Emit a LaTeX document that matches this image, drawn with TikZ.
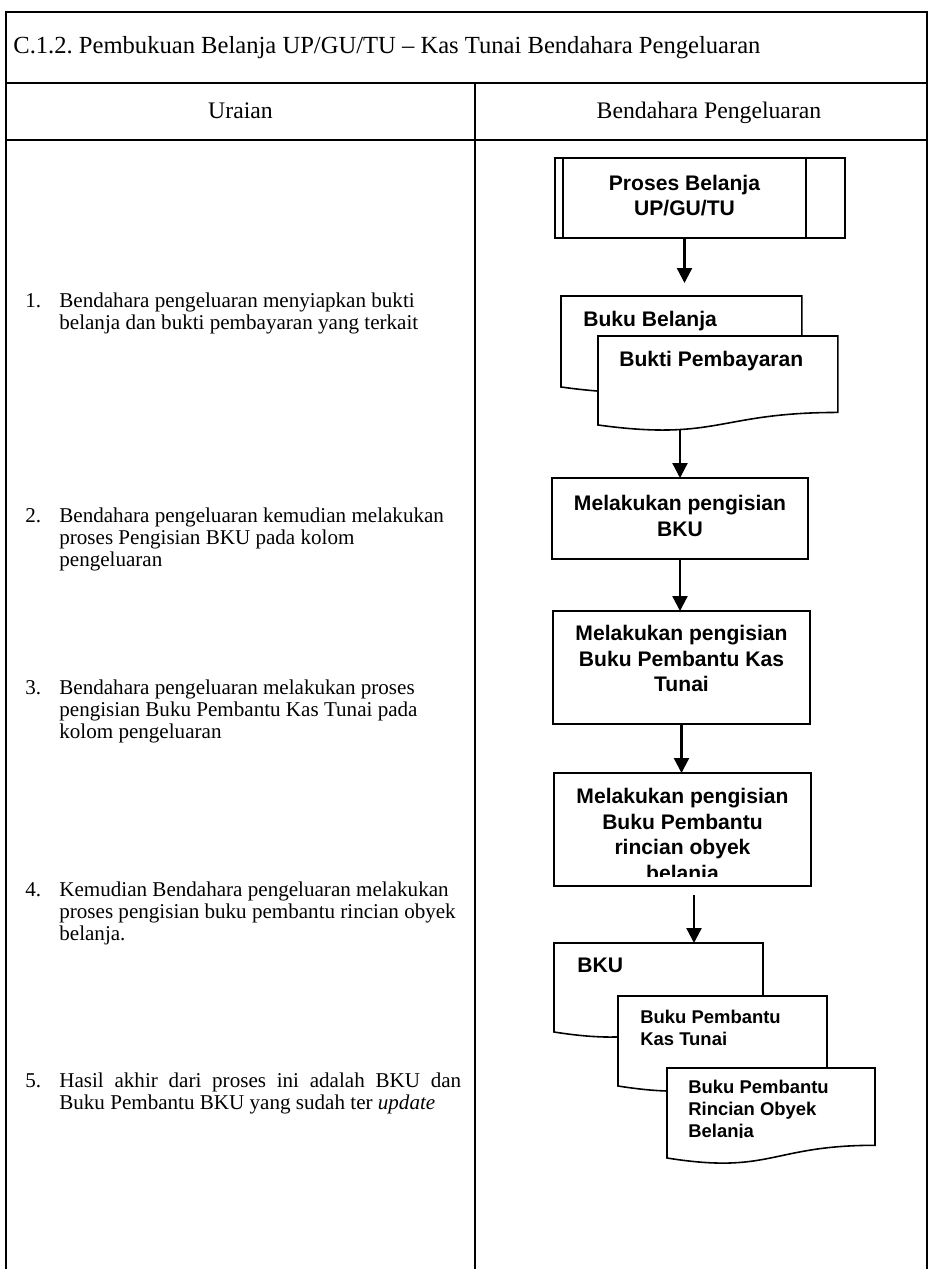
\documentclass[tikz,border=0pt]{standalone}
\usepackage{fontspec}
\setmainfont{Liberation Serif}
\newfontfamily\arialf{Liberation Sans}
\usetikzlibrary{positioning,arrows.meta,calc}
\tikzset{
  frameline/.style={line width=0.6pt, draw=black},
  judul/.style={font=\frenchspacing\fontsize{14}{16}\selectfont, inner sep=0pt, anchor=west},
  kepala/.style={font=\fontsize{13.5}{16}\selectfont, inner sep=0pt, anchor=base},
  uraian/.style={font=\fontsize{12}{12.3}\selectfont, align=left, inner sep=0pt, anchor=north west},
  nomor/.style={font=\fontsize{12}{12.3}\selectfont, inner sep=0pt, anchor=north west},
  kotak/.style={draw=black, line width=0.9pt, fill=white, inner sep=0pt, outer sep=0pt},
  kotaktxt/.style={font=\arialf\bfseries\fontsize{12}{14.5}\selectfont, align=center,
                   inner sep=0pt, anchor=north},
  dokbox/.style={inner sep=0pt, outer sep=0pt, anchor=north west},
  dokline/.style={draw=black, line width=0.9pt, fill=white},
  doktxt/.style={font=\arialf\bfseries\fontsize{12}{14}\selectfont, align=left,
                 inner sep=0pt, anchor=north west},
  doktxtk/.style={font=\arialf\bfseries\fontsize{10.5}{12.5}\selectfont, align=left,
                  inner sep=0pt, anchor=north west},
  alur/.style={-{Triangle[length=0.3cm,width=0.3cm]}, line width=1.3pt},
}
% document symbol with wavy bottom edge
\newcommand{\dokumen}[1]{\draw[dokline] (#1.north west) -- (#1.north east)
  -- ($(#1.north east)!0.859!(#1.south east)$)
  .. controls ($(#1.north)!0.859!(#1.south)$) and ($(#1.north)!1.185!(#1.south)$)
  .. (#1.south west) -- cycle;}

\begin{document}
\begin{tikzpicture}[x=0.02cm, y=-0.02cm]
\useasboundingbox (0,0) rectangle (928,1269);
% table
\draw[frameline] (6,1269) -- (6,12) -- (927,12) -- (927,1269);
\draw[frameline] (6,83) -- (927,83);
\draw[frameline] (6,140) -- (927,140);
\draw[frameline] (475,83) -- (475,1269);
\node[judul] (judul) at (13,48) {C.1.2. Pembukuan Belanja UP/GU/TU -- Kas Tunai Bendahara Pengeluaran};
\node[kepala] (kuraian) at (240.5,118) {Uraian};
\node[kepala] (kbendahara) at (709,118) {Bendahara Pengeluaran};

% uraian
\node[uraian] (u1) at (59,293) {Bendahara pengeluaran menyiapkan bukti\\belanja dan bukti pembayaran yang terkait};
\node[nomor] (n1) at ($(u1.north west)+(-34,0)$) {1.};
\node[uraian] (u2) at (59,508) {Bendahara pengeluaran kemudian melakukan\\proses Pengisian BKU pada kolom\\pengeluaran};
\node[nomor] (n2) at ($(u2.north west)+(-34,0)$) {2.};
\node[uraian] (u3) at (59,680) {Bendahara pengeluaran melakukan proses\\pengisian Buku Pembantu Kas Tunai pada\\kolom pengeluaran};
\node[nomor] (n3) at ($(u3.north west)+(-34,0)$) {3.};
\node[uraian] (u4) at (59,882) {Kemudian Bendahara pengeluaran melakukan\\proses pengisian buku pembantu rincian obyek\\belanja.};
\node[nomor] (n4) at ($(u4.north west)+(-34,0)$) {4.};
\node[uraian] (u5) at (59,1073) {\makebox[8.04cm][s]{Hasil akhir dari proses ini adalah BKU dan}\\Buku Pembantu BKU yang sudah ter \textit{update}};
\node[nomor] (n5) at ($(u5.north west)+(-34,0)$) {5.};

% predefined process
\node[kotak, minimum width=4.86cm, minimum height=1.6cm] (proses) at (684.5,198) {};
\draw[line width=0.9pt] ($(proses.north west)+(-8,0)$) rectangle ($(proses.south east)+(39,0)$);
\node[kotaktxt] (prosestxt) at ($(proses.north)+(0,16.5)$) {Proses Belanja\\UP/GU/TU};

% bukti
\node[dokbox, minimum width=4.82cm, minimum height=1.82cm] (bbelanja) at (561,296) {};
\dokumen{bbelanja}
\node[dokbox, minimum width=4.8cm, minimum height=1.78cm] (bbayar) at (598,336) {};
\dokumen{bbayar}
\node[doktxt] (bbelanjatxt) at ($(bbelanja.north west)+(22,15)$) {Buku Belanja};
\node[doktxt] (bbayartxt) at ($(bbayar.north west)+(21,15)$) {Bukti Pembayaran};

% pengisian
\node[kotak, minimum width=5.12cm, minimum height=1.62cm] (isibku) at (680,518.5) {};
\node[kotaktxt] (isibkutxt) at ($(isibku.north)+(0,17)$) {Melakukan pengisian\\BKU};
\node[kotak, minimum width=5.14cm, minimum height=2.26cm] (isikas) at (681.5,667.5) {};
\node[kotaktxt] (isikastxt) at ($(isikas.north)+(0,14)$) {Melakukan pengisian\\Buku Pembantu Kas\\Tunai};
\node[kotak, minimum width=5.14cm, minimum height=2.26cm] (isirinci) at (682.5,829.5) {};
\begin{scope}
  \clip (isirinci.north west) rectangle ($(isirinci.south east)+(0,-10)$);
  \node[kotaktxt] (isirincitxt) at ($(isirinci.north)+(0,15)$) {Melakukan pengisian\\Buku Pembantu\\rincian obyek\\belanja};
\end{scope}

% hasil
\node[dokbox, minimum width=4.18cm, minimum height=1.78cm] (dbku) at (554,943) {};
\dokumen{dbku}
\node[dokbox, minimum width=4.18cm, minimum height=1.8cm] (dkas) at (618,996) {};
\dokumen{dkas}
\node[dokbox, minimum width=4.16cm, minimum height=1.8cm] (drinci) at (667,1068) {};
\dokumen{drinci}
\node[doktxt] (dbkutxt) at ($(dbku.north west)+(23,15)$) {BKU};
\node[doktxtk] (dkastxt) at ($(dkas.north west)+(22,14)$) {Buku Pembantu\\Kas Tunai};
\begin{scope}
  \clip (drinci.north west) rectangle ($(drinci.south east)+(0,-20)$);
  \node[doktxtk] (drincitxt) at ($(drinci.north west)+(21,12)$) {Buku Pembantu\\Rincian Obyek\\Belanja};
\end{scope}

% alur
\draw[alur] (proses.south) -- ($(bbelanja.north -| proses.south)+(0,-13)$);
\draw[alur] ($(isibku.north |- bbayar.south)+(0,4)$) -- (isibku.north);
\draw[alur] (isibku.south) -- (isibku.south |- isikas.north);
\draw[alur] (isikas.south) -- (isikas.south |- isirinci.north);
\coordinate (a5) at ($(isirinci.south)+(11.5,9)$);
\draw[alur] (a5) -- (a5 |- dbku.north);
\end{tikzpicture}
\end{document}
